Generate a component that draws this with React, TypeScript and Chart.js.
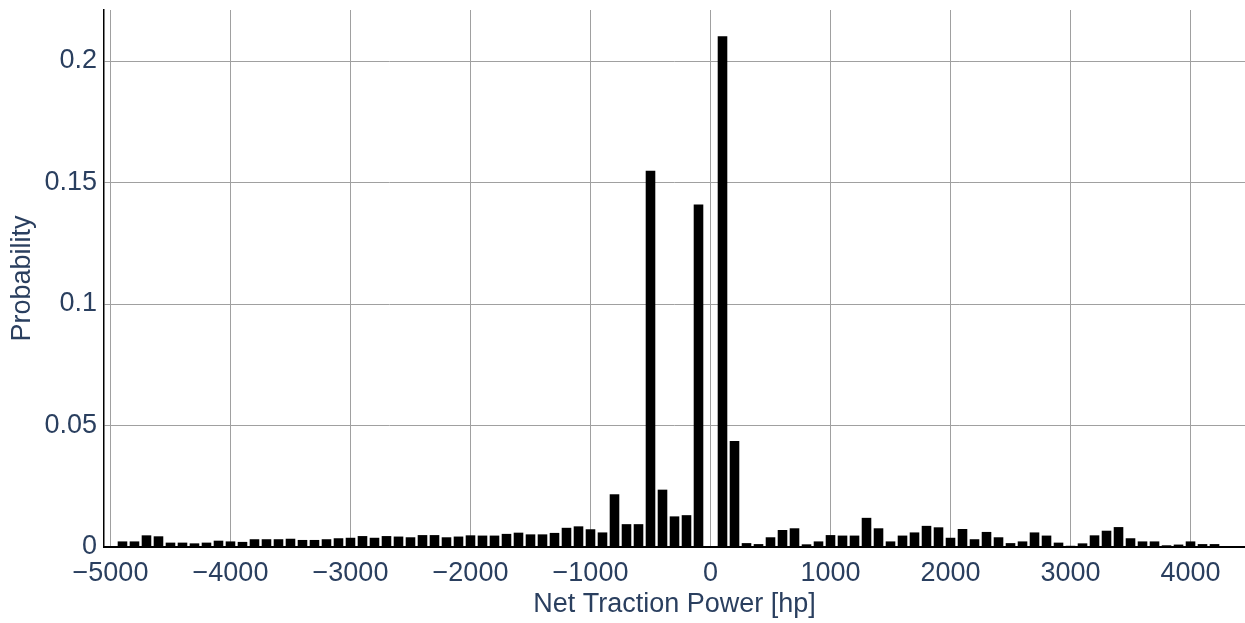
import React, { useEffect, useRef } from "react";
import { Chart, registerables } from "chart.js";
Chart.register(...registerables);

const binCenters = [
  -4900, -4800, -4700, -4600, -4500, -4400, -4300, -4200, -4100, -4000,
  -3900, -3800, -3700, -3600, -3500, -3400, -3300, -3200, -3100, -3000,
  -2900, -2800, -2700, -2600, -2500, -2400, -2300, -2200, -2100, -2000,
  -1900, -1800, -1700, -1600, -1500, -1400, -1300, -1200, -1100, -1000,
  -900, -800, -700, -600, -500, -400, -300, -200, -100, 0,
  100, 200, 300, 400, 500, 600, 700, 800, 900, 1000,
  1100, 1200, 1300, 1400, 1500, 1600, 1700, 1800, 1900, 2000,
  2100, 2200, 2300, 2400, 2500, 2600, 2700, 2800, 2900, 3000,
  3100, 3200, 3300, 3400, 3500, 3600, 3700, 3800, 3900, 4000,
  4100, 4200,
];

const probabilities = [
  0.0023, 0.0023, 0.0048, 0.0044, 0.0018, 0.0018, 0.0015, 0.0018, 0.0026, 0.0023,
  0.0021, 0.0032, 0.0032, 0.0032, 0.0034, 0.0029, 0.0029, 0.0032, 0.0036, 0.0038,
  0.0045, 0.0038, 0.0045, 0.0043, 0.004, 0.0049, 0.0049, 0.004, 0.0043, 0.0048,
  0.0047, 0.0047, 0.0054, 0.0059, 0.0052, 0.0052, 0.0058, 0.0079, 0.0085, 0.0073,
  0.006, 0.0217, 0.0094, 0.0094, 0.1548, 0.0236, 0.0126, 0.0131, 0.141, 0,
  0.2102, 0.0436, 0.0016, 0.0012, 0.004, 0.007, 0.0077, 0.0011, 0.0023, 0.0049,
  0.0047, 0.0047, 0.012, 0.0077, 0.0023, 0.0047, 0.006, 0.0087, 0.0081, 0.0038,
  0.0074, 0.0032, 0.0062, 0.004, 0.0016, 0.0023, 0.006, 0.0047, 0.0018, 0.0005,
  0.0015, 0.0048, 0.0067, 0.0082, 0.0036, 0.0023, 0.0023, 0.0007, 0.001, 0.0023,
  0.0012, 0.0012,
];

const xTickValues = [-5000, -4000, -3000, -2000, -1000, 0, 1000, 2000, 3000, 4000];
const yTickValues = [0, 0.05, 0.1, 0.15, 0.2];

const FONT = "'Liberation Sans', Arial, sans-serif";
const TEXT = "#2a3f5f";
const FS = 27;

export default function App() {
  const ref = useRef<HTMLCanvasElement | null>(null);
  useEffect(() => {
    document.body.style.margin = "0";
    const canvas = ref.current!;
    const chart = new Chart(canvas, {
      type: "bar",
      data: {
        datasets: [
          {
            data: binCenters.map((x, i) => ({ x, y: probabilities[i] })),
            backgroundColor: "#000000",
            borderWidth: 0,
            barPercentage: 0.8,
            categoryPercentage: 1.0,
          },
        ],
      },
      options: {
        animation: false,
        responsive: false,
        devicePixelRatio: 1,
        layout: { padding: { top: 10, right: 0, left: 0, bottom: 0 } },
        plugins: { legend: { display: false }, tooltip: { enabled: false } },
        scales: {
          x: {
            type: "linear",
            offset: false,
            min: -5054,
            max: 4454,
            afterFit: (s: any) => {
              s.height = 76;
              s.paddingLeft = 0;
              s.paddingRight = 0;
            },
            afterBuildTicks: (s: any) => {
              s.ticks = xTickValues.map((v) => ({ value: v }));
            },
            ticks: {
              autoSkip: false,
              maxRotation: 0,
              padding: 10,
              color: TEXT,
              font: { family: FONT, size: FS },
              callback: (v: any) => (Number(v) < 0 ? "\u2212" + Math.abs(Number(v)) : String(v)),
            },
            grid: { color: "#a0a0a0", lineWidth: 1, drawTicks: false, offset: false },
            border: { color: "#000000", width: 2 },
            title: {
              display: true,
              text: "Net Traction Power [hp]",
              color: TEXT,
              font: { family: FONT, size: FS },
              padding: { top: 0, bottom: 2 },
            },
          },
          y: {
            type: "linear",
            min: 0,
            max: 0.221,
            afterFit: (s: any) => {
              s.width = 104;
              s.paddingTop = 0;
              s.paddingBottom = 0;
            },
            afterBuildTicks: (s: any) => {
              s.ticks = yTickValues.map((v) => ({ value: v }));
            },
            ticks: {
              padding: 7,
              color: TEXT,
              font: { family: FONT, size: FS },
              callback: (v: any) => String(parseFloat(Number(v).toFixed(3))),
            },
            grid: { color: "#a0a0a0", lineWidth: 1, drawTicks: false },
            border: { color: "#000000", width: 1.5 },
            title: {
              display: true,
              text: "Probability",
              color: TEXT,
              font: { family: FONT, size: FS },
              padding: { top: 6, bottom: 0 },
            },
          },
        },
      },
    });
    return () => chart.destroy();
  }, []);
  return (
    <div style={{ position: "absolute", left: 0, top: 0, width: 1245, height: 623 }}>
      <canvas ref={ref} width={1245} height={623} />
    </div>
  );
}
